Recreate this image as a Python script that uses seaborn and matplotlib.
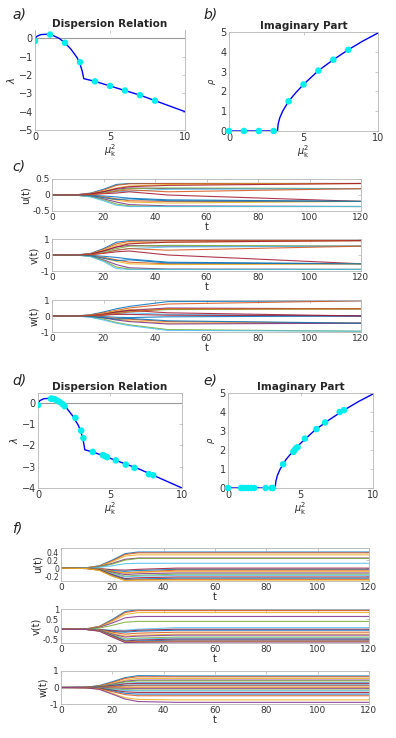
import numpy as np
import pandas as pd
import matplotlib
matplotlib.use('Agg')
import matplotlib.pyplot as plt
import seaborn as sns

# ---------------- dados ----------------
# relacao de dispersao (parte real), lida da figura
mu2_curve = [0, 0.15, 0.4, 0.8, 1.2, 1.6, 2.0, 2.4, 2.8, 3.0, 3.15, 3.25, 4, 5, 6, 7, 8, 9, 10]
lam_curve = [0.0, 0.12, 0.2, 0.22, 0.15, 0.0, -0.25, -0.6, -1.05, -1.4, -1.8, -2.2, -2.35, -2.6, -2.85, -3.1, -3.4, -3.7, -4.0]

# parte imaginaria
mu2_im = [0, 1, 2, 3, 3.25, 3.3, 3.4, 3.6, 4, 4.5, 5, 6, 7, 8, 9, 10]
rho_im = [0, 0, 0, 0, 0.0, 0.35, 0.65, 1.0, 1.5, 1.95, 2.35, 3.05, 3.6, 4.1, 4.55, 4.95]

# modos do caso a/b
mu2_a = [0, 1, 2, 3, 4, 5, 6, 7, 8]
lam_a = [-0.15, 0.2, -0.25, -1.3, -2.35, -2.6, -2.85, -3.1, -3.4]
rho_a = [0, 0, 0, 0, 1.5, 2.35, 3.05, 3.6, 4.1]

# modos do caso d/e
mu2_d = [0, 0.9, 1.0, 1.15, 1.3, 1.5, 1.7, 1.85, 2.6, 3.0, 3.15, 3.8, 4.5, 4.65, 4.8, 5.4, 6.1, 6.7, 7.7, 8.0]
lam_d = [-0.1, 0.2, 0.2, 0.18, 0.12, 0.05, -0.05, -0.15, -0.7, -1.3, -1.65, -2.3, -2.45, -2.5, -2.55, -2.7, -2.9, -3.05, -3.35, -3.4]
mu2_e = [0, 0.9, 1.0, 1.2, 1.4, 1.6, 1.8, 2.6, 3.0, 3.1, 3.8, 4.5, 4.6, 4.7, 4.8, 5.3, 6.1, 6.7, 7.7, 8.0]
rho_e = [0, 0, 0, 0, 0, 0, 0, 0, 0, 0, 1.25, 1.9, 2.0, 2.1, 2.15, 2.6, 3.1, 3.45, 4.0, 4.1]

# tempos amostrados das series temporais
t_amostras = [0, 10, 15, 20, 25, 30, 45, 120]

c_u = [
    [0, 0.01, 0.06, 0.18, 0.33, 0.36, 0.36, 0.36],
    [0, 0.01, 0.05, 0.15, 0.30, 0.35, 0.36, 0.36],
    [0, 0.01, 0.04, 0.12, 0.22, 0.28, 0.33, 0.36],
    [0, 0.01, 0.04, 0.10, 0.18, 0.22, 0.20, 0.20],
    [0, 0.00, 0.03, 0.08, 0.14, 0.20, 0.22, 0.20],
    [0, 0.00, 0.02, 0.06, 0.10, 0.12, 0.18, 0.20],
    [0, 0.00, 0.02, 0.04, 0.06, 0.10, 0.00, -0.20],
    [0, 0.00, -0.01, -0.03, -0.06, -0.10, -0.15, -0.20],
    [0, 0.00, -0.02, -0.06, -0.12, -0.18, -0.20, -0.20],
    [0, -0.01, -0.03, -0.08, -0.16, -0.22, -0.25, -0.20],
    [0, -0.01, -0.04, -0.12, -0.22, -0.30, -0.34, -0.36],
    [0, -0.01, -0.05, -0.15, -0.28, -0.34, -0.36, -0.36],
    [0, -0.01, -0.06, -0.18, -0.32, -0.36, -0.36, -0.36],
    [0, 0.00, 0.03, 0.10, 0.20, 0.26, 0.30, 0.36],
    [0, 0.00, -0.02, -0.08, -0.14, -0.12, -0.18, -0.20],
    [0, 0.00, 0.01, 0.05, 0.12, 0.16, 0.10, 0.20],
]

c_v = [
    [0, 0.01, 0.10, 0.40, 0.80, 0.90, 0.90, 0.90],
    [0, 0.01, 0.08, 0.35, 0.70, 0.85, 0.90, 0.90],
    [0, 0.01, 0.07, 0.30, 0.60, 0.75, 0.80, 0.90],
    [0, 0.01, 0.06, 0.25, 0.50, 0.60, 0.55, 0.55],
    [0, 0.00, 0.05, 0.20, 0.40, 0.55, 0.60, 0.55],
    [0, 0.00, 0.04, 0.15, 0.30, 0.40, 0.50, 0.55],
    [0, 0.00, 0.03, 0.10, 0.20, 0.25, 0.00, -0.55],
    [0, 0.00, -0.02, -0.08, -0.15, -0.25, -0.45, -0.55],
    [0, 0.00, -0.04, -0.15, -0.30, -0.45, -0.55, -0.55],
    [0, -0.01, -0.05, -0.20, -0.40, -0.55, -0.60, -0.55],
    [0, -0.01, -0.07, -0.30, -0.60, -0.80, -0.88, -0.90],
    [0, -0.01, -0.08, -0.35, -0.75, -0.88, -0.90, -0.90],
    [0, -0.01, -0.10, -0.40, -0.85, -0.90, -0.90, -0.90],
    [0, 0.00, 0.05, 0.25, 0.50, 0.70, 0.80, 0.90],
    [0, 0.00, -0.04, -0.20, -0.35, -0.30, -0.50, -0.55],
    [0, 0.00, 0.02, 0.12, 0.30, 0.40, 0.30, 0.55],
]

c_w = [
    [0, 0.01, 0.08, 0.25, 0.45, 0.60, 0.90, 0.95],
    [0, 0.01, 0.06, 0.20, 0.35, 0.50, 0.75, 0.95],
    [0, 0.01, 0.05, 0.15, 0.30, 0.40, 0.45, 0.45],
    [0, 0.01, 0.04, 0.12, 0.25, 0.35, 0.50, 0.45],
    [0, 0.00, 0.03, 0.10, 0.20, 0.30, 0.40, 0.45],
    [0, 0.00, 0.02, 0.06, 0.12, 0.20, 0.10, 0.00],
    [0, 0.00, 0.02, 0.05, 0.10, 0.10, 0.05, 0.00],
    [0, 0.00, -0.01, -0.04, -0.08, -0.10, -0.05, 0.00],
    [0, 0.00, -0.02, -0.08, -0.15, -0.20, -0.35, -0.45],
    [0, -0.01, -0.03, -0.10, -0.20, -0.30, -0.45, -0.45],
    [0, -0.01, -0.04, -0.12, -0.25, -0.35, -0.50, -0.45],
    [0, -0.01, -0.06, -0.20, -0.40, -0.55, -0.85, -0.95],
    [0, -0.01, -0.08, -0.25, -0.45, -0.60, -0.90, -0.95],
    [0, 0.00, 0.03, 0.10, 0.25, 0.35, 0.20, 0.00],
    [0, 0.00, -0.03, -0.10, -0.20, -0.15, -0.30, -0.45],
    [0, 0.00, 0.02, 0.08, 0.15, 0.25, 0.45, 0.45],
]

f_u = [
    [0, 0.01, 0.06, 0.20, 0.36, 0.40, 0.40, 0.40],
    [0, 0.01, 0.05, 0.18, 0.34, 0.38, 0.38, 0.38],
    [0, 0.01, 0.05, 0.16, 0.30, 0.33, 0.33, 0.33],
    [0, 0.00, 0.04, 0.12, 0.22, 0.25, 0.25, 0.25],
    [0, 0.00, 0.03, 0.10, 0.20, 0.24, 0.24, 0.24],
    [0, 0.00, 0.02, 0.06, 0.11, 0.12, 0.12, 0.12],
    [0, 0.00, -0.01, -0.04, -0.05, -0.03, 0.00, 0.00],
    [0, 0.00, -0.02, -0.06, -0.08, -0.06, -0.03, -0.03],
    [0, 0.00, -0.02, -0.08, -0.12, -0.10, -0.05, -0.05],
    [0, 0.00, -0.02, -0.08, -0.12, -0.10, -0.08, -0.08],
    [0, 0.00, -0.03, -0.10, -0.16, -0.14, -0.12, -0.12],
    [0, 0.00, -0.03, -0.12, -0.20, -0.18, -0.15, -0.15],
    [0, 0.00, -0.04, -0.14, -0.22, -0.20, -0.18, -0.18],
    [0, -0.01, -0.04, -0.16, -0.26, -0.24, -0.22, -0.22],
    [0, -0.01, -0.05, -0.18, -0.28, -0.27, -0.25, -0.25],
    [0, -0.01, -0.05, -0.20, -0.30, -0.29, -0.28, -0.28],
    [0, -0.01, -0.06, -0.20, -0.31, -0.30, -0.30, -0.30],
]

f_v = [
    [0, 0.02, 0.15, 0.50, 0.90, 1.00, 1.00, 1.00],
    [0, 0.02, 0.14, 0.45, 0.85, 0.95, 0.95, 0.95],
    [0, 0.02, 0.12, 0.40, 0.75, 0.85, 0.85, 0.85],
    [0, 0.01, 0.10, 0.32, 0.58, 0.65, 0.65, 0.65],
    [0, 0.01, 0.06, 0.20, 0.36, 0.40, 0.40, 0.40],
    [0, 0.00, -0.01, -0.05, -0.05, 0.00, 0.08, 0.08],
    [0, 0.00, -0.02, -0.08, -0.10, -0.05, 0.00, 0.00],
    [0, 0.00, -0.03, -0.12, -0.15, -0.10, -0.05, -0.05],
    [0, 0.00, -0.03, -0.15, -0.25, -0.20, -0.15, -0.15],
    [0, 0.00, -0.04, -0.20, -0.35, -0.30, -0.25, -0.25],
    [0, -0.01, -0.05, -0.25, -0.40, -0.35, -0.30, -0.30],
    [0, -0.01, -0.06, -0.28, -0.50, -0.45, -0.40, -0.40],
    [0, -0.01, -0.07, -0.30, -0.55, -0.50, -0.45, -0.45],
    [0, -0.01, -0.08, -0.32, -0.60, -0.55, -0.50, -0.50],
    [0, -0.01, -0.08, -0.34, -0.62, -0.60, -0.55, -0.55],
    [0, -0.01, -0.09, -0.36, -0.65, -0.63, -0.60, -0.60],
    [0, -0.01, -0.10, -0.38, -0.66, -0.65, -0.63, -0.63],
    [0, -0.01, -0.10, -0.40, -0.68, -0.66, -0.65, -0.65],
]

f_w = [
    [0, 0.02, 0.12, 0.35, 0.60, 0.72, 0.70, 0.70],
    [0, 0.02, 0.10, 0.30, 0.55, 0.65, 0.65, 0.65],
    [0, 0.01, 0.08, 0.25, 0.45, 0.55, 0.55, 0.55],
    [0, 0.01, 0.07, 0.20, 0.38, 0.45, 0.45, 0.45],
    [0, 0.01, 0.06, 0.18, 0.34, 0.40, 0.40, 0.40],
    [0, 0.01, 0.05, 0.14, 0.26, 0.30, 0.30, 0.30],
    [0, 0.01, 0.04, 0.12, 0.22, 0.25, 0.25, 0.25],
    [0, 0.00, 0.03, 0.08, 0.13, 0.15, 0.15, 0.15],
    [0, 0.00, 0.02, 0.05, 0.09, 0.10, 0.10, 0.10],
    [0, 0.00, 0.00, 0.01, 0.00, 0.00, 0.00, 0.00],
    [0, 0.00, -0.01, -0.03, -0.05, -0.05, -0.05, -0.05],
    [0, 0.00, -0.03, -0.08, -0.13, -0.15, -0.15, -0.15],
    [0, 0.00, -0.04, -0.12, -0.18, -0.20, -0.20, -0.20],
    [0, -0.01, -0.05, -0.16, -0.26, -0.30, -0.30, -0.30],
    [0, -0.01, -0.06, -0.20, -0.35, -0.40, -0.40, -0.40],
    [0, -0.01, -0.07, -0.25, -0.43, -0.50, -0.50, -0.50],
    [0, -0.02, -0.10, -0.35, -0.62, -0.72, -0.75, -0.75],
    [0, -0.02, -0.12, -0.40, -0.70, -0.85, -0.90, -0.90],
]

# cores padrao do MATLAB
cores_matlab = ['#0072bd', '#d95319', '#edb120', '#7e2f8e', '#77ac30', '#4dbeee', '#a2142f']

sns.set_theme(style='white')
plt.rcParams['font.family'] = ['DejaVu Sans']

W, H = 396, 738
fig = plt.figure(figsize=(W / 100, H / 100), dpi=100)


def eixo(l, r, top, bot):
    return fig.add_axes([l / W, 1 - bot / H, (r - l) / W, (bot - top) / H])


def estilo(ax, tam=6.5):
    for sp in ax.spines.values():
        sp.set_color('#b5b5b5')
        sp.set_linewidth(0.6)
    ax.tick_params(direction='in', length=2, width=0.5, colors='#b5b5b5',
                   labelcolor='#333333', labelsize=tam, top=True, right=True, pad=1.5)


def dispersao(ax, mx, my, ylim, yticks):
    ax.axhline(0, color='#9a9a9a', lw=0.8)
    sns.lineplot(x=mu2_curve, y=lam_curve, color='#0000ff', lw=1, sort=False, ax=ax)
    sns.scatterplot(x=mx, y=my, color='#00eeee', s=22, edgecolor='none', zorder=5, ax=ax)
    ax.set_xlim(0, 10)
    ax.set_ylim(*ylim)
    ax.set_xticks([0, 5, 10])
    ax.set_yticks(yticks)
    ax.set_title('Dispersion Relation', fontsize=7.5, fontweight='bold', pad=2)
    ax.set_xlabel(r'$\mu_{\mathrm{k}}^{2}$', fontsize=7, labelpad=0)
    ax.set_ylabel(r'$\lambda$', fontsize=7, labelpad=1)
    estilo(ax, 7)


def imaginaria(ax, mx, my):
    sns.lineplot(x=mu2_im, y=rho_im, color='#0000ff', lw=1, sort=False, ax=ax)
    sns.scatterplot(x=mx, y=my, color='#00eeee', s=22, edgecolor='none', zorder=5, clip_on=False, ax=ax)
    ax.set_xlim(0, 10)
    ax.set_ylim(0, 5)
    ax.set_xticks([0, 5, 10])
    ax.set_yticks([0, 1, 2, 3, 4, 5])
    ax.set_title('Imaginary Part', fontsize=7.5, fontweight='bold', pad=2)
    ax.set_xlabel(r'$\mu_{\mathrm{k}}^{2}$', fontsize=7, labelpad=0)
    ax.set_ylabel(r'$\rho$', fontsize=6, labelpad=2)
    estilo(ax, 7)


def series(ax, tracos, rotulo, ylim, yticks, yticklabels, tam=6.5):
    linhas = []
    for i, tr in enumerate(tracos):
        for t, v in zip(t_amostras, tr):
            linhas.append({'t': t, 'val': v, 'traco': i})
    df = pd.DataFrame(linhas)
    paleta = [cores_matlab[i % 7] for i in range(len(tracos))]
    sns.lineplot(data=df, x='t', y='val', hue='traco', palette=paleta, estimator=None,
                 legend=False, lw=0.8, alpha=0.85, ax=ax)
    ax.set_xlim(0, 120)
    ax.set_ylim(*ylim)
    ax.set_xticks([0, 20, 40, 60, 80, 100, 120])
    ax.set_yticks(yticks)
    ax.set_yticklabels(yticklabels)
    ax.set_xlabel('t', fontsize=7, labelpad=0)
    ax.set_ylabel(rotulo, fontsize=7, labelpad=1)
    estilo(ax, 6.5)
    ax.tick_params(axis='y', labelsize=tam)


# a) e b)
ax_a = eixo(35, 185, 30, 130)
dispersao(ax_a, mu2_a, lam_a, (-5, 0.45), [-5, -4, -3, -2, -1, 0])
ax_a.spines['top'].set_visible(False)
ax_b = eixo(229, 378, 32, 131)
imaginaria(ax_b, mu2_a, rho_a)

# c)
series(eixo(52, 361, 179, 211), c_u, 'u(t)', (-0.5, 0.5), [-0.5, 0, 0.5], ['-0.5', '0', '0.5'])
series(eixo(52, 361, 239, 271), c_v, 'v(t)', (-1, 1), [-1, 0, 1], ['-1', '0', '1'])
series(eixo(52, 361, 300, 332), c_w, 'w(t)', (-1, 1), [-1, 0, 1], ['-1', '0', '1'])

# d) e e)
ax_d = eixo(38, 182, 393, 488)
dispersao(ax_d, mu2_d, lam_d, (-4, 0.47), [-4, -3, -2, -1, 0])
ax_e = eixo(228, 373, 393, 488)
imaginaria(ax_e, mu2_e, rho_e)

# f)
series(eixo(61, 369, 548, 581), f_u, 'u(t)', (-0.32, 0.5), [-0.2, 0, 0.2, 0.4],
       ['-0.2', '0', '0.2', '0.4'], tam=5.5)
series(eixo(61, 369, 609, 643), f_v, 'v(t)', (-0.7, 1.03), [-0.5, 0, 0.5, 1],
       ['-0.5', '0', '0.5', '1'], tam=6)
series(eixo(61, 369, 671, 704), f_w, 'w(t)', (-1, 1), [-1, 0, 1], ['-1', '0', '1'])

# letras dos paineis
for txt, x, y in [('a)', 12, 14), ('b)', 203, 14), ('c)', 12, 166),
                  ('d)', 12, 380), ('e)', 203, 380), ('f)', 12, 528)]:
    fig.text(x / W, 1 - y / H, txt, fontsize=10, style='italic', va='center', color='#222222')

fig.savefig('out.png', dpi=100)
